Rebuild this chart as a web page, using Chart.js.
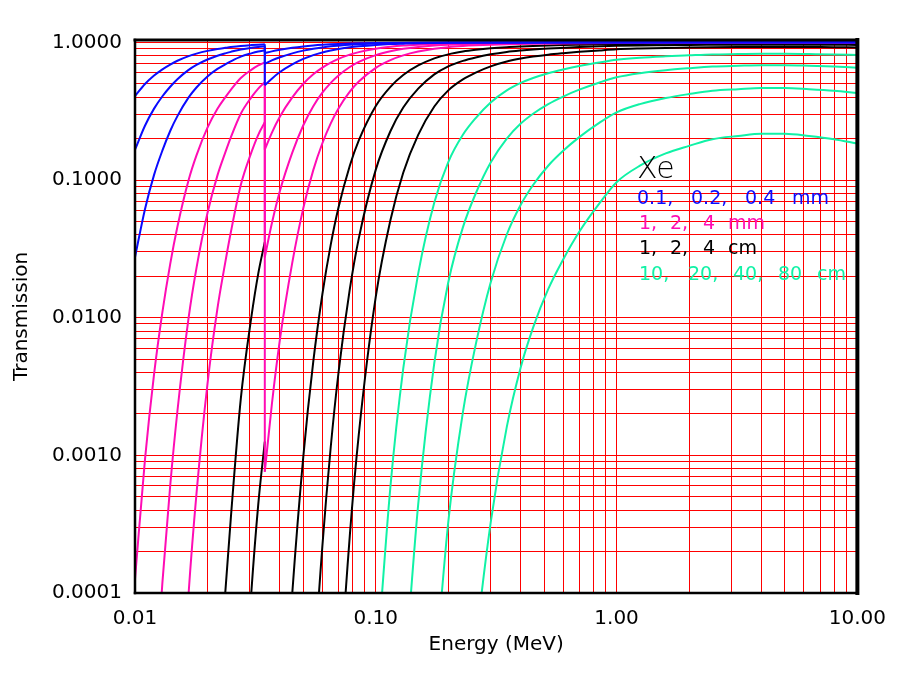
<!DOCTYPE html>
<html>
<head>
<meta charset="utf-8">
<title>Xe transmission</title>
<script src="https://cdn.jsdelivr.net/npm/chart.js@4.4.1/dist/chart.umd.min.js"></script>
<style>
  html, body { margin: 0; padding: 0; background: #fff; }
  canvas { display: block; }
</style>
</head>
<body>
<canvas id="xeChart" width="900" height="675"></canvas>
<script>
// Axis ticks (major labels; gridlines also at 2..9 of each decade)
const xMajor = [0.01, 0.1, 1, 10];
const xMajorLabels = ['0.01', '0.10', '1.00', '10.00'];
const yMajor = [0.0001, 0.001, 0.01, 0.1, 1];
const yMajorLabels = ['0.0001', '0.0010', '0.0100', '0.1000', '1.0000'];

// Transmission curves [energy MeV, transmission].
// K edge of Xe at 0.0346 MeV gives the vertical drop; null = drop not drawn.
const blue01mm = [[0.01,0.407],[0.011,0.498],[0.012,0.574],[0.013,0.637],[0.014,0.690],[0.015,0.735],[0.0167,0.794],[0.018,0.828],[0.02,0.867],[0.022,0.895],[0.0237,0.912],[0.025,0.924],[0.0275,0.942],[0.0304,0.955],[0.0325,0.962],[0.0346,0.967],[0.0346,0.836],[0.037,0.860],[0.04,0.883],[0.045,0.912],[0.05,0.933],[0.055,0.948],[0.06,0.959],[0.065,0.967],[0.07,0.973],[0.078,0.980],[0.085,0.984],[0.1,0.989],[0.13,0.9945],[0.2,0.998],[0.5,0.9995],[1,0.9997],[10,0.9998]];
const blue02mm = [[0.01,0.166],[0.011,0.248],[0.012,0.330],[0.013,0.406],[0.014,0.476],[0.015,0.540],[0.0167,0.631],[0.018,0.686],[0.02,0.751],[0.022,0.800],[0.0237,0.832],[0.025,0.853],[0.0275,0.888],[0.0304,0.912],[0.0325,0.926],[0.0346,0.935],[0.0346,0.698],[0.037,0.739],[0.04,0.780],[0.045,0.832],[0.05,0.871],[0.055,0.899],[0.06,0.919],[0.065,0.935],[0.07,0.946],[0.078,0.960],[0.085,0.968],[0.1,0.979],[0.115,0.985],[0.13,0.989],[0.15,0.992],[0.2,0.996],[0.3,0.998],[1,0.9994],[10,0.9996]];
const blue04mm = [[0.01,0.0275],[0.011,0.0614],[0.012,0.109],[0.013,0.164],[0.014,0.227],[0.015,0.291],[0.0167,0.398],[0.018,0.470],[0.02,0.565],[0.022,0.641],[0.0237,0.692],[0.025,0.728],[0.0275,0.788],[0.0304,0.832],[0.0325,0.857],[0.0346,0.875],[0.0346,0.488],[0.037,0.545],[0.04,0.609],[0.045,0.692],[0.05,0.758],[0.055,0.808],[0.06,0.845],[0.065,0.873],[0.07,0.895],[0.078,0.921],[0.085,0.936],[0.1,0.958],[0.115,0.971],[0.13,0.978],[0.15,0.985],[0.175,0.989],[0.2,0.992],[0.3,0.996],[0.5,0.998],[1,0.999],[10,0.9992]];

const mag1mm = [[0.01,1.26e-4],[0.011,9.3e-4],[0.012,0.00389],[0.013,0.011],[0.014,0.0245],[0.015,0.0457],[0.0167,0.1],[0.018,0.151],[0.02,0.240],[0.022,0.329],[0.0237,0.398],[0.025,0.452],[0.0275,0.551],[0.0304,0.631],[0.0325,0.679],[0.0346,0.716],[0.0346,0.166],[0.037,0.220],[0.04,0.289],[0.045,0.398],[0.05,0.500],[0.055,0.586],[0.06,0.656],[0.065,0.713],[0.07,0.759],[0.078,0.814],[0.085,0.849],[0.1,0.899],[0.115,0.928],[0.13,0.947],[0.15,0.962],[0.175,0.974],[0.2,0.980],[0.26,0.987],[0.35,0.992],[0.52,0.995],[1,0.997],[10,0.998]];
const mag2mm = [[0.012,1.5e-5],[0.013,1.2e-4],[0.014,6.0e-4],[0.015,0.00209],[0.0167,0.01],[0.018,0.0229],[0.02,0.0575],[0.022,0.108],[0.0237,0.158],[0.025,0.204],[0.0275,0.303],[0.0304,0.398],[0.0325,0.461],[0.0346,0.513],[0.0346,0.0275],[0.037,0.0483],[0.04,0.0836],[0.045,0.158],[0.05,0.250],[0.055,0.344],[0.06,0.431],[0.065,0.508],[0.07,0.575],[0.078,0.662],[0.085,0.721],[0.1,0.808],[0.115,0.862],[0.13,0.897],[0.15,0.926],[0.175,0.948],[0.2,0.961],[0.26,0.975],[0.35,0.984],[0.52,0.990],[1,0.994],[2,0.996],[10,0.996]];
const mag4mm = [[0.015,4.4e-6],[0.0167,1.0e-4],[0.018,5.25e-4],[0.02,0.00331],[0.022,0.0117],[0.0237,0.0251],[0.025,0.0417],[0.0275,0.092],[0.0304,0.158],[0.0325,0.213],[0.0346,0.263],[0.0346,7.6e-4],[0.037,0.00233],[0.04,0.00698],[0.045,0.0251],[0.05,0.0625],[0.055,0.118],[0.06,0.185],[0.065,0.258],[0.07,0.331],[0.078,0.438],[0.085,0.519],[0.1,0.653],[0.115,0.743],[0.13,0.804],[0.15,0.857],[0.175,0.898],[0.2,0.923],[0.23,0.940],[0.26,0.951],[0.3,0.961],[0.35,0.968],[0.45,0.976],[0.6,0.982],[1,0.988],[2,0.991],[4,0.992],[10,0.992]];

const black1cm = [[0.022,1.5e-5],[0.0237,1e-4],[0.025,3.5e-4],[0.0275,0.00257],[0.0304,0.01],[0.0325,0.0209],[0.0346,0.0355],[0.0346,null],[0.04,4.1e-6],[0.045,1e-4],[0.05,9.8e-4],[0.055,0.00479],[0.06,0.0148],[0.065,0.0339],[0.07,0.0631],[0.078,0.127],[0.085,0.194],[0.1,0.345],[0.115,0.475],[0.13,0.579],[0.15,0.679],[0.175,0.765],[0.2,0.818],[0.23,0.857],[0.26,0.882],[0.3,0.905],[0.35,0.923],[0.4,0.934],[0.45,0.942],[0.52,0.950],[0.6,0.956],[0.7,0.961],[0.85,0.967],[1,0.971],[1.25,0.974],[1.6,0.977],[2,0.979],[2.5,0.980],[3.2,0.981],[5,0.981],[8,0.980],[10,0.979]];
const black2cm = [[0.0275,6.6e-6],[0.0304,1e-4],[0.0325,4.4e-4],[0.0346,0.00126],[0.0346,null],[0.05,9.5e-7],[0.055,2.3e-5],[0.06,2.19e-4],[0.065,0.00115],[0.07,0.00398],[0.078,0.0161],[0.085,0.0377],[0.1,0.119],[0.115,0.226],[0.13,0.336],[0.15,0.461],[0.175,0.585],[0.2,0.670],[0.23,0.734],[0.26,0.777],[0.3,0.818],[0.35,0.852],[0.4,0.873],[0.45,0.888],[0.52,0.902],[0.6,0.913],[0.7,0.924],[0.85,0.935],[1,0.943],[1.25,0.950],[1.6,0.954],[2,0.958],[2.5,0.960],[3.2,0.962],[5,0.962],[8,0.960],[10,0.958]];
const black4cm = [[0.06,4.8e-8],[0.065,1.3e-6],[0.07,1.58e-5],[0.078,2.61e-4],[0.085,0.00142],[0.1,0.0142],[0.115,0.0510],[0.13,0.113],[0.15,0.213],[0.175,0.342],[0.2,0.448],[0.23,0.538],[0.26,0.603],[0.3,0.669],[0.35,0.725],[0.4,0.762],[0.45,0.788],[0.52,0.814],[0.6,0.834],[0.7,0.853],[0.85,0.874],[1,0.890],[1.25,0.902],[1.6,0.911],[2,0.917],[2.5,0.922],[3.2,0.925],[5,0.927],[8,0.922],[10,0.919]];

const green10cm = [[0.1,2.4e-5],[0.115,5.9e-4],[0.13,0.00427],[0.15,0.0209],[0.175,0.0686],[0.2,0.135],[0.23,0.213],[0.26,0.282],[0.3,0.366],[0.35,0.448],[0.4,0.507],[0.45,0.551],[0.52,0.597],[0.6,0.635],[0.7,0.673],[0.85,0.714],[1,0.746],[1.25,0.773],[1.6,0.792],[2,0.805],[2.5,0.817],[3.2,0.822],[4,0.826],[5,0.826],[6.3,0.822],[8,0.817],[10,0.809]];
const green20cm = [[0.13,1.8e-5],[0.15,4.4e-4],[0.175,0.0047],[0.2,0.0181],[0.23,0.0453],[0.26,0.0798],[0.3,0.134],[0.35,0.200],[0.4,0.257],[0.45,0.303],[0.52,0.356],[0.6,0.404],[0.7,0.453],[0.85,0.511],[1,0.557],[1.25,0.597],[1.6,0.628],[2,0.649],[2.5,0.667],[3.2,0.676],[4,0.682],[5,0.682],[6.3,0.676],[8,0.667],[10,0.655]];
const green40cm = [[0.175,2.2e-5],[0.2,3.28e-4],[0.23,0.00205],[0.26,0.00637],[0.3,0.018],[0.35,0.0402],[0.4,0.0661],[0.45,0.092],[0.52,0.127],[0.6,0.163],[0.7,0.205],[0.85,0.261],[1,0.310],[1.25,0.356],[1.6,0.394],[2,0.421],[2.5,0.445],[3.2,0.457],[4,0.466],[5,0.466],[6.3,0.457],[8,0.445],[10,0.429]];
const green80cm = [[0.23,4.2e-6],[0.26,4.1e-5],[0.3,3.25e-4],[0.35,0.00161],[0.4,0.00437],[0.45,0.00847],[0.52,0.0161],[0.6,0.0265],[0.7,0.0421],[0.85,0.0679],[1,0.0964],[1.25,0.127],[1.6,0.156],[2,0.177],[2.5,0.198],[3.2,0.209],[4,0.217],[5,0.217],[6.3,0.209],[8,0.198],[10,0.184]];

const BLUE = '#0a0aff';
const MAGENTA = '#ff0cb4';
const BLACK = '#000000';
const GREEN = '#10f2a6';
const FONT = '"DejaVu Sans", "Liberation Sans", sans-serif';

// Legend rows drawn as text in the plot
const legendRows = [
    { color: BLUE, y: 204, parts: [['0.1,', 637], ['0.2,', 691], ['0.4', 745], ['mm', 792]] },
    { color: MAGENTA, y: 229, parts: [['1,', 639], ['2,', 670], ['4', 703], ['mm', 728]] },
    { color: BLACK, y: 254, parts: [['1,', 639], ['2,', 670], ['4', 703], ['cm', 728]] },
    { color: GREEN, y: 280, parts: [['10,', 639], ['20,', 688], ['40,', 733], ['80', 778], ['cm', 817]] }
];

// gridlines at 1..9 of every decade
function decadeGrid(majors) {
    const out = [];
    majors.forEach((m, i) => {
        out.push(m);
        if (i < majors.length - 1) {
            for (let k = 2; k <= 9; k++) out.push(+(m * k).toPrecision(3));
        }
    });
    return out;
}

function majorLabel(value, majors, labels) {
    const i = majors.findIndex(m => Math.abs(m - value) / m < 1e-6);
    return i >= 0 ? labels[i] : '';
}

// split a curve at the K edge: smooth pieces before/after, straight drop between
function curveSets(data, color) {
    const base = { borderColor: color, borderWidth: 2, pointRadius: 0, fill: false };
    const i = data.findIndex((p, k) => k > 0 && p[0] === data[k - 1][0]);
    if (i < 0) {
        return [{ ...base, data: data, cubicInterpolationMode: 'monotone' }];
    }
    const pre = data.slice(0, i);
    const post = data.slice(i).filter(p => p[1] !== null);
    const sets = [
        { ...base, data: pre, cubicInterpolationMode: 'monotone' },
        { ...base, data: post, cubicInterpolationMode: 'monotone' }
    ];
    if (data[i][1] !== null) {
        sets.push({ ...base, data: [data[i - 1], data[i]], tension: 0 });
    }
    return sets;
}

const framePlugin = {
    id: 'frame',
    afterDatasetsDraw(chart) {
        const { ctx, chartArea: a } = chart;
        ctx.save();
        ctx.strokeStyle = '#000';
        ctx.lineCap = 'square';
        const seg = (w, x1, y1, x2, y2) => {
            ctx.lineWidth = w;
            ctx.beginPath();
            ctx.moveTo(x1, y1);
            ctx.lineTo(x2, y2);
            ctx.stroke();
        };
        seg(2.5, a.left, a.top, a.left, a.bottom);
        seg(2.5, a.left, a.bottom, a.right, a.bottom);
        seg(3, a.left, a.top, a.right, a.top);
        seg(4, a.right, a.top, a.right, a.bottom);
        ctx.restore();
    }
};

const legendPlugin = {
    id: 'xeLegend',
    afterDraw(chart) {
        const ctx = chart.ctx;
        ctx.save();
        ctx.textAlign = 'left';
        ctx.textBaseline = 'alphabetic';
        ctx.fillStyle = BLACK;
        ctx.font = '200 30px ' + FONT;
        ctx.fillText('Xe', 637, 178);
        ctx.font = '19px ' + FONT;
        legendRows.forEach(row => {
            ctx.fillStyle = row.color;
            row.parts.forEach(([txt, x]) => ctx.fillText(txt, x, row.y));
        });
        ctx.restore();
    }
};

const curves = [
    [blue01mm, BLUE], [blue02mm, BLUE], [blue04mm, BLUE],
    [mag1mm, MAGENTA], [mag2mm, MAGENTA], [mag4mm, MAGENTA],
    [black1cm, BLACK], [black2cm, BLACK], [black4cm, BLACK],
    [green10cm, GREEN], [green20cm, GREEN], [green40cm, GREEN], [green80cm, GREEN]
];

const ctx = document.getElementById('xeChart').getContext('2d');
new Chart(ctx, {
    type: 'line',
    data: {
        datasets: curves.flatMap(([d, c]) => curveSets(d, c))
    },
    options: {
        responsive: false,
        animation: false,
        devicePixelRatio: 1,
        layout: {
            padding: { left: 0, right: 39, top: 40, bottom: 0 }
        },
        plugins: {
            legend: { display: false },
            tooltip: { enabled: false }
        },
        scales: {
            x: {
                type: 'logarithmic',
                min: 0.01,
                max: 10,
                afterBuildTicks: axis => {
                    axis.ticks = decadeGrid(xMajor).map(v => ({ value: v }));
                },
                afterFit: axis => { axis.height = 82; },
                grid: { color: '#ff0000', lineWidth: 1, drawTicks: false },
                border: { display: false },
                ticks: {
                    autoSkip: false,
                    maxRotation: 0,
                    minRotation: 0,
                    padding: 14,
                    color: '#000',
                    font: { family: FONT, size: 20 },
                    callback: value => majorLabel(value, xMajor, xMajorLabels)
                },
                title: {
                    display: true,
                    text: 'Energy (MeV)',
                    color: '#000',
                    font: { family: FONT, size: 20 },
                    padding: { top: 0, bottom: 18 }
                }
            },
            y: {
                type: 'logarithmic',
                min: 0.0001,
                max: 1.04,
                afterBuildTicks: axis => {
                    axis.ticks = decadeGrid(yMajor).map(v => ({ value: v }));
                },
                afterFit: axis => { axis.width = 135; },
                grid: { color: '#ff0000', lineWidth: 1, drawTicks: false },
                border: { display: false },
                ticks: {
                    autoSkip: false,
                    padding: 13,
                    color: '#000',
                    font: { family: FONT, size: 20 },
                    callback: value => majorLabel(value, yMajor, yMajorLabels)
                },
                title: {
                    display: true,
                    text: 'Transmission',
                    color: '#000',
                    font: { family: FONT, size: 20 },
                    padding: { top: 10, bottom: 0 }
                }
            }
        }
    },
    plugins: [framePlugin, legendPlugin]
});
</script>
</body>
</html>
